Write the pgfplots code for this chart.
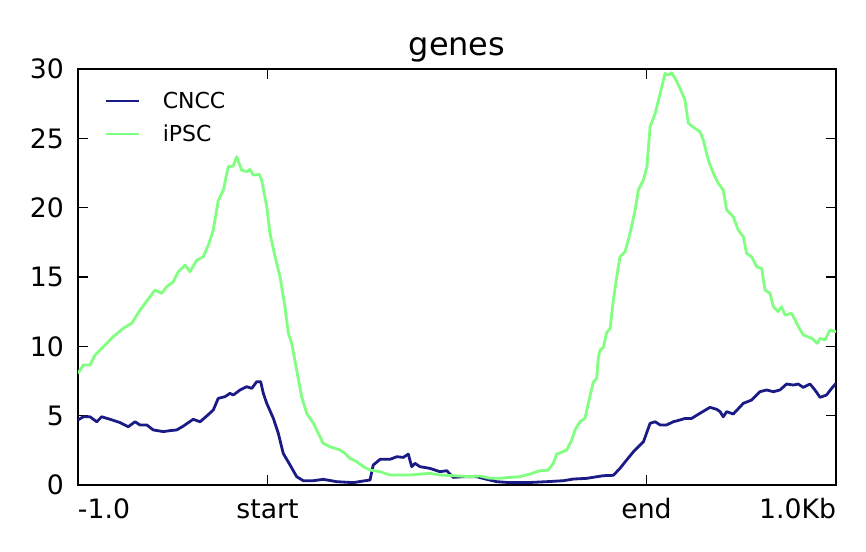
\documentclass[border=0pt]{standalone}
\usepackage{fontspec}
\setmainfont{DejaVu Sans}
\usepackage{pgfplots}
\pgfplotsset{compat=1.18}
\definecolor{cncc}{RGB}{27,27,133}
\definecolor{ipsc}{RGB}{128,255,128}
\begin{document}
\begin{tikzpicture}[x=1pt,y=1pt]
\begin{axis}[
  name=ax,
  at={(0,0)}, anchor=south west,
  scale only axis, width=758pt, height=416pt,
  xmin=0, xmax=400, ymin=0, ymax=30,
  axis line style={line width=2.6pt},
  tick align=inside,
  major tick length=10pt,
  every tick/.style={black, line width=1.2pt},
  xtick={0,100,300,400},
  xticklabels={\makebox[0pt][l]{-1.0},start,end,\makebox[0pt][r]{1.0Kb}},
  ytick={0,5,10,15,20,25,30},
  /pgf/number format/assume math mode=true,
  ticklabel style={font=\fontsize{26.7}{30}\selectfont},
  xticklabel style={anchor=base, inner sep=0pt, yshift=-33pt},
  yticklabel style={anchor=east, inner sep=0pt, xshift=-14pt},
  title={genes},
  title style={font=\fontsize{32}{36}\selectfont, at={(0.5,1)}, anchor=base, inner sep=0pt, yshift=7pt},
  legend image code/.code={\draw[#1] (0pt,0pt) -- (33pt,0pt);},
  legend style={draw=none, fill=none, at={(0,1)}, anchor=north west, xshift=27pt, yshift=-21pt,
    inner sep=0pt, outer sep=0pt, row sep=11pt,
    font=\fontsize{22}{26}\selectfont,
    cells={anchor=west, inner sep=0pt},
    /tikz/every odd column/.append style={column sep=20pt}},
]
\addplot[cncc, line width=2.8pt, line join=round] coordinates {
(0,4.69)(2.8,4.92)(6.3,4.92)(9.9,4.56)(12.5,4.92)(16.9,4.74)(22.2,4.5)(26.5,4.2)(30.1,4.56)(32.7,4.33)(36.3,4.33)(39.7,3.97)(45.0,3.85)(48.5,3.92)(52.1,3.97)(55.6,4.25)(60.8,4.74)(64.4,4.56)(67.9,4.97)(71.4,5.41)(74.0,6.25)(77.6,6.37)(80.2,6.61)(82.0,6.49)(85.5,6.85)(89.0,7.09)(91.7,6.97)(94.3,7.45)(96.4,7.45)(97.8,6.61)(99.6,5.89)(103.1,4.8)(105.7,3.73)(108.3,2.28)(111.9,1.44)(115.4,0.6)(118.9,0.31)(124.2,0.31)(129.4,0.41)(136.5,0.24)(145.3,0.17)(150.6,0.29)(154.1,0.36)(155.8,1.44)(159.4,1.85)(164.6,1.85)(168.2,2.04)(171.7,1.99)(174.3,2.23)(176.1,1.32)(177.8,1.56)(180.5,1.32)(185.7,1.2)(191.0,0.96)(194.6,1.03)(198.0,0.55)(203.3,0.6)(210.4,0.6)(215.7,0.41)(220.9,0.24)(228.0,0.17)(236.8,0.17)(247.3,0.24)(256.1,0.31)(261.4,0.43)(268.4,0.48)(277.2,0.67)(282.5,0.70)(286.0,1.2)(289.5,1.8)(293.1,2.4)(295.7,2.76)(298.4,3.12)(301.9,4.45)(304.6,4.56)(307.2,4.33)(310.6,4.33)(314.1,4.56)(317.7,4.69)(320.3,4.8)(323.8,4.8)(328.2,5.17)(333.5,5.6)(337.0,5.46)(338.8,5.29)(340.5,4.92)(342.3,5.29)(345.8,5.12)(351.1,5.89)(355.5,6.13)(359.9,6.73)(363.4,6.85)(366.9,6.73)(370.4,6.85)(373.9,7.28)(377.5,7.21)(380.1,7.28)(382.7,7.04)(386.3,7.28)(388.9,6.85)(391.6,6.32)(395.0,6.49)(397.7,6.97)(400,7.33)
};
\addlegendentry{CNCC}
\addplot[ipsc, line width=2.8pt, line join=round] coordinates {
(0,8.05)(2.8,8.65)(6.3,8.65)(9.0,9.37)(13.4,9.97)(18.6,10.7)(23.9,11.3)(28.3,11.66)(32.7,12.6)(38.0,13.58)(40.6,14.06)(44.2,13.82)(46.8,14.3)(50.3,14.66)(52.9,15.38)(56.5,15.86)(59.1,15.38)(62.6,16.2)(66.1,16.46)(68.8,17.3)(71.4,18.4)(74.0,20.5)(76.7,21.27)(79.3,22.95)(81.9,23.0)(83.7,23.67)(86.4,22.7)(89.0,22.6)(90.8,22.76)(92.5,22.35)(95.7,22.4)(96.9,22.0)(99.6,20.07)(101.3,18.15)(104.0,16.46)(106.6,15.02)(109.2,12.86)(111.0,10.94)(112.8,10.2)(115.4,8.3)(118.0,6.37)(120.7,5.17)(124.2,4.45)(126.8,3.73)(129.4,3.0)(133.0,2.76)(138.3,2.52)(140.9,2.28)(143.5,1.92)(147.1,1.68)(150.6,1.32)(154.1,1.08)(159.4,0.96)(164.6,0.72)(169.9,0.72)(175.2,0.72)(180.5,0.79)(185.7,0.84)(191.0,0.72)(198.0,0.67)(206.9,0.6)(212.1,0.65)(217.4,0.48)(222.7,0.48)(228.0,0.55)(233.2,0.6)(238.5,0.79)(243.8,1.03)(248.2,1.08)(250.8,1.56)(252.6,2.23)(257.9,2.52)(260.5,3.24)(262.3,3.97)(264.9,4.56)(267.5,4.8)(269.3,5.89)(271.9,7.4)(273.7,7.69)(274.6,9.2)(275.5,9.73)(277.2,9.9)(279.0,11.0)(280.8,11.3)(282.5,13.34)(284.3,15.02)(286.0,16.46)(288.7,16.82)(291.3,18.15)(294.0,19.83)(295.7,21.27)(298.4,22.0)(300.2,22.95)(301.9,25.83)(304.6,26.8)(307.2,28.24)(309.8,29.68)(311.5,29.56)(313.3,29.73)(315.1,29.32)(317.7,28.6)(320.3,27.76)(322.1,26.08)(325.6,25.72)(328.2,25.47)(330.0,24.87)(332.6,23.43)(335.3,22.47)(337.9,21.75)(340.5,21.27)(342.3,19.83)(345.8,19.34)(348.4,18.39)(351.1,17.9)(352.8,16.7)(355.5,16.46)(358.1,15.74)(360.8,15.62)(362.5,14.06)(365.2,13.82)(366.9,12.86)(369.5,12.5)(371.3,12.86)(373.1,12.26)(376.6,12.38)(379.2,11.66)(382.7,10.82)(387.2,10.58)(390.1,10.22)(391.6,10.58)(394.2,10.46)(396.8,11.18)(400,11.05)
};
\addlegendentry{iPSC}
\end{axis}
\path[use as bounding box] (-78,-66) rectangle (788,485);
\end{tikzpicture}
\end{document}
